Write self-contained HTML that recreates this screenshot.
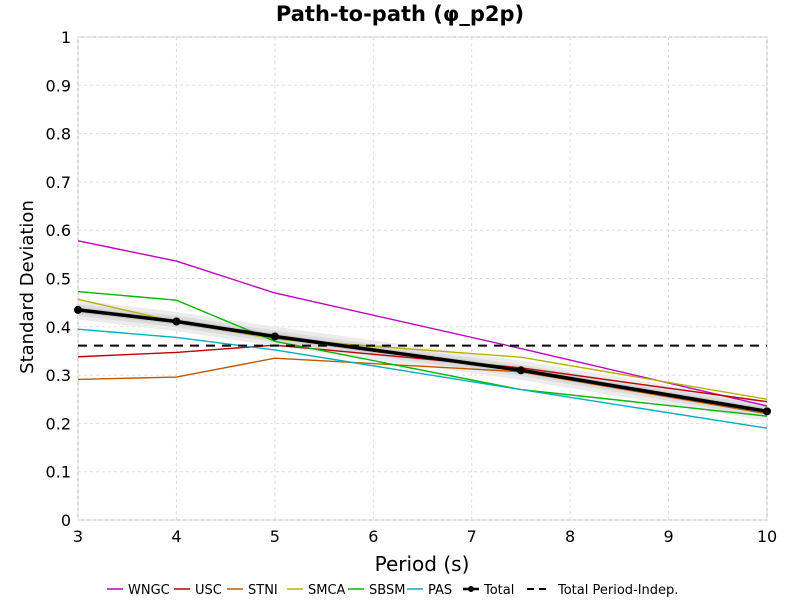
<!DOCTYPE html>
<html><head><meta charset="utf-8"><style>
body{margin:0;background:#fff;font-family:"DejaVu Sans","Liberation Sans",sans-serif}
svg text{font-family:"DejaVu Sans","Liberation Sans",sans-serif}
</style></head><body>
<svg id="c" width="800" height="600" xmlns="http://www.w3.org/2000/svg"></svg>
<script>
const periods=[3,4,5,7.5,10];
const seriesNames=["WNGC","USC","STNI","SMCA","SBSM","PAS"];
const colors=["#c000c0","#c00000","#c05a00","#b8b000","#00b800","#00b0c0"];
const wngc=[0.578,0.536,0.470,0.355,0.236];
const usc=[0.338,0.347,0.362,0.315,0.245];
const stni=[0.291,0.296,0.335,0.307,0.220];
const smca=[0.457,0.410,0.375,0.337,0.250];
const sbsm=[0.473,0.455,0.370,0.270,0.215];
const pas=[0.395,0.378,0.352,0.270,0.190];
const total=[0.435,0.411,0.380,0.310,0.225];
const totalIndep=0.361;
const xTicks=[3,4,5,6,7,8,9,10];
const yTicks=[0,0.1,0.2,0.3,0.4,0.5,0.6,0.7,0.8,0.9,1];
const L=78,R=767,T=37,B=520;
const sx=v=>L+(v-3)/7*(R-L), sy=v=>B-v*(B-T);
const svg=document.getElementById('c');const NS="http://www.w3.org/2000/svg";
function el(t,a,txt){const e=document.createElementNS(NS,t);for(const k in a)e.setAttribute(k,a[k]);if(txt!==undefined)e.textContent=txt;svg.appendChild(e);return e;}
let e;
e=el('rect',{x:L,y:T,width:R-L,height:B-T,fill:'#fff',stroke:'#bbb'});


xTicks.forEach(v=>{e=el('line',{x1:sx(v),x2:sx(v),y1:T,y2:B,stroke:'#ddd','stroke-dasharray':'3,3'});


e=el('text',{x:sx(v),y:B+22,'text-anchor':'middle','font-size':16},String(v));

});
yTicks.forEach(v=>{e=el('line',{x1:L,x2:R,y1:sy(v),y2:sy(v),stroke:'#ddd','stroke-dasharray':'3,3'});


e=el('text',{x:L-7,y:sy(v)+6,'text-anchor':'end','font-size':16},String(v));

});
[0.02,0.012,0.006].forEach((w,i)=>{const up=periods.map((p,j)=>sx(p)+','+sy(total[j]+w)).join(' ');
const dn=periods.map((p,j)=>sx(p)+','+sy(total[j]-w)).reverse().join(' ');
e=el('polygon',{points:up+' '+dn,fill:['#ececec','#dcdcdc','#c8c8c8'][i]});

});
const data=[wngc,usc,stni,smca,sbsm,pas];
data.forEach((d,i)=>{e=el('polyline',{points:periods.map((p,j)=>sx(p)+','+sy(d[j])).join(' '),fill:'none',stroke:colors[i],'stroke-width':1.4});

});
e=el('line',{x1:L,x2:R,y1:sy(totalIndep),y2:sy(totalIndep),stroke:'#000','stroke-width':2,'stroke-dasharray':'9,7'});


e=el('polyline',{points:periods.map((p,j)=>sx(p)+','+sy(total[j])).join(' '),fill:'none',stroke:'#000','stroke-width':3.5});


periods.forEach((p,j)=>{e=el('circle',{cx:sx(p),cy:sy(total[j]),r:4,fill:'#000'});

});
e=el('text',{x:400,y:21,'text-anchor':'middle','font-size':21,'font-weight':'bold'},'Path-to-path (φ_p2p)');


e=el('text',{x:422,y:571,'text-anchor':'middle','font-size':20},'Period (s)');


e=el('text',{x:33,y:287,'text-anchor':'middle','font-size':18,transform:'rotate(-90 33 287)'},'Standard Deviation');


const tx=[128,195,248,308,369,428,484,558];
const labs=seriesNames.concat(["Total","Total Period-Indep."]);
labs.forEach((n,i)=>{const x=tx[i]-21,y=589;
if(i<6){e=el('line',{x1:x,x2:x+16,y1:y,y2:y,stroke:colors[i],'stroke-width':1.5});}
else if(i==6){e=el('line',{x1:x,x2:x+16,y1:y,y2:y,stroke:'#000','stroke-width':2.5});el('circle',{cx:x+8,cy:y,r:3,fill:'#000'});}
else{e=el('line',{x1:x-10,x2:x+14,y1:y,y2:y,stroke:'#000','stroke-width':2,'stroke-dasharray':'7,5'});}


e=el('text',{x:tx[i],y:y+5,'font-size':13},n);

});
</script></body></html>
